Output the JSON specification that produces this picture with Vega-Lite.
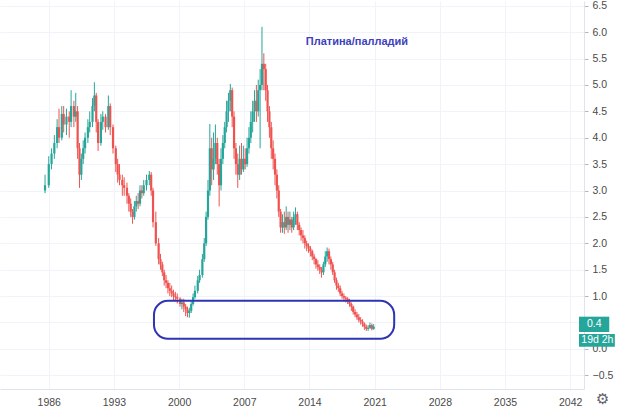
{
  "$schema": "https://vega.github.io/schema/vega-lite/v6.json",
  "width": 584,
  "height": 388,
  "padding": 0,
  "background": "white",
  "config": {
    "view": {"stroke": null},
    "font": "Liberation Sans",
    "axis": {
      "labelFont": "Liberation Sans",
      "labelFontSize": 10.5,
      "labelColor": "#4a4a4a",
      "gridColor": "#f0f3fa",
      "domainColor": "#e0e3eb",
      "labelOverlap": false
    },
    "axisX": {"ticks": false, "labelPadding": 8, "labelOverlap": false, "labelFlush": false},
    "axisY": {"tickSize": 4, "tickColor": "#b2b5be", "labelPadding": 4}
  },
  "datasets": {
    "candles": [
      {"t": 1985.6, "o": 3.0, "h": 3.3, "l": 2.95, "c": 3.1},
      {"t": 1986.0, "o": 3.1, "h": 3.65, "l": 3.05, "c": 3.5},
      {"t": 1986.3, "o": 3.5, "h": 3.8, "l": 3.4, "c": 3.7},
      {"t": 1986.6, "o": 3.7, "h": 4.05, "l": 3.6, "c": 3.9},
      {"t": 1986.9, "o": 3.9, "h": 4.35, "l": 3.8, "c": 4.2},
      {"t": 1987.1, "o": 4.2, "h": 4.55, "l": 3.9, "c": 4.0},
      {"t": 1987.4, "o": 4.0, "h": 4.6, "l": 3.95, "c": 4.45},
      {"t": 1987.6, "o": 4.45, "h": 4.6, "l": 4.1, "c": 4.25},
      {"t": 1987.9, "o": 4.25, "h": 4.55, "l": 4.05, "c": 4.4},
      {"t": 1988.2, "o": 4.4, "h": 4.5, "l": 4.0, "c": 4.3},
      {"t": 1988.4, "o": 4.3, "h": 4.9, "l": 4.2, "c": 4.6},
      {"t": 1988.7, "o": 4.6, "h": 4.7, "l": 4.2, "c": 4.4},
      {"t": 1988.9, "o": 4.4, "h": 4.85, "l": 4.3, "c": 4.5},
      {"t": 1989.1, "o": 4.5, "h": 4.6, "l": 3.6, "c": 3.8},
      {"t": 1989.3, "o": 3.8, "h": 3.9, "l": 3.05, "c": 3.3},
      {"t": 1989.5, "o": 3.3, "h": 3.7, "l": 3.2, "c": 3.6},
      {"t": 1989.7, "o": 3.6, "h": 3.95, "l": 3.5, "c": 3.8},
      {"t": 1989.9, "o": 3.8, "h": 4.1, "l": 3.7, "c": 4.0},
      {"t": 1990.2, "o": 4.0, "h": 4.35, "l": 3.9, "c": 4.2},
      {"t": 1990.4, "o": 4.2, "h": 4.5, "l": 4.1, "c": 4.3},
      {"t": 1990.7, "o": 4.3, "h": 4.75, "l": 4.2, "c": 4.6},
      {"t": 1990.9, "o": 4.6, "h": 5.05, "l": 4.5, "c": 4.8},
      {"t": 1991.1, "o": 4.8, "h": 4.85, "l": 4.1, "c": 4.3},
      {"t": 1991.3, "o": 4.3, "h": 4.35, "l": 3.75, "c": 3.9},
      {"t": 1991.6, "o": 3.9, "h": 4.45, "l": 3.85, "c": 4.3},
      {"t": 1991.8, "o": 4.3, "h": 4.5, "l": 4.15, "c": 4.4},
      {"t": 1992.1, "o": 4.4, "h": 4.45, "l": 4.1, "c": 4.2},
      {"t": 1992.4, "o": 4.2, "h": 4.8, "l": 4.15, "c": 4.6},
      {"t": 1992.6, "o": 4.6, "h": 4.65, "l": 4.05, "c": 4.2},
      {"t": 1992.9, "o": 4.2, "h": 4.25, "l": 3.7, "c": 3.8},
      {"t": 1993.2, "o": 3.8, "h": 3.85, "l": 3.35, "c": 3.5},
      {"t": 1993.4, "o": 3.5, "h": 3.6, "l": 3.15, "c": 3.3},
      {"t": 1993.6, "o": 3.3, "h": 3.5, "l": 3.1, "c": 3.2},
      {"t": 1993.9, "o": 3.2, "h": 3.3, "l": 2.9, "c": 3.1},
      {"t": 1994.1, "o": 3.1, "h": 3.25, "l": 2.9, "c": 3.05},
      {"t": 1994.4, "o": 3.05, "h": 3.15, "l": 2.75, "c": 2.9},
      {"t": 1994.6, "o": 2.9, "h": 2.95, "l": 2.6, "c": 2.75},
      {"t": 1994.8, "o": 2.75, "h": 2.85, "l": 2.5, "c": 2.6},
      {"t": 1995.0, "o": 2.6, "h": 2.65, "l": 2.37, "c": 2.5},
      {"t": 1995.2, "o": 2.5, "h": 2.8, "l": 2.45, "c": 2.7},
      {"t": 1995.4, "o": 2.7, "h": 2.9, "l": 2.6, "c": 2.8},
      {"t": 1995.6, "o": 2.8, "h": 2.95, "l": 2.65, "c": 2.75},
      {"t": 1995.8, "o": 2.75, "h": 3.1, "l": 2.7, "c": 3.0},
      {"t": 1996.0, "o": 3.0, "h": 3.1, "l": 2.85, "c": 2.95},
      {"t": 1996.2, "o": 2.95, "h": 3.2, "l": 2.9, "c": 3.1},
      {"t": 1996.5, "o": 3.1, "h": 3.3, "l": 3.0, "c": 3.2},
      {"t": 1996.8, "o": 3.2, "h": 3.37, "l": 3.1, "c": 3.3},
      {"t": 1997.0, "o": 3.3, "h": 3.35, "l": 2.9, "c": 3.0},
      {"t": 1997.2, "o": 3.0, "h": 3.05, "l": 2.3, "c": 2.4},
      {"t": 1997.5, "o": 2.4, "h": 2.6, "l": 1.95, "c": 2.0},
      {"t": 1997.8, "o": 2.0, "h": 2.1, "l": 1.6, "c": 1.7},
      {"t": 1998.0, "o": 1.7, "h": 1.8, "l": 1.5, "c": 1.6},
      {"t": 1998.2, "o": 1.6, "h": 1.65, "l": 1.38, "c": 1.45},
      {"t": 1998.4, "o": 1.45, "h": 1.5, "l": 1.2, "c": 1.3},
      {"t": 1998.6, "o": 1.3, "h": 1.4, "l": 1.15, "c": 1.25},
      {"t": 1998.8, "o": 1.25, "h": 1.3, "l": 1.05, "c": 1.15},
      {"t": 1999.0, "o": 1.15, "h": 1.25, "l": 1.0, "c": 1.1},
      {"t": 1999.2, "o": 1.1, "h": 1.2, "l": 0.98, "c": 1.05},
      {"t": 1999.4, "o": 1.05, "h": 1.12, "l": 0.92, "c": 1.0},
      {"t": 1999.6, "o": 1.0, "h": 1.08, "l": 0.9, "c": 0.98},
      {"t": 1999.8, "o": 0.98, "h": 1.05, "l": 0.86, "c": 0.95},
      {"t": 2000.1, "o": 0.95, "h": 0.98, "l": 0.8, "c": 0.85},
      {"t": 2000.3, "o": 0.85, "h": 0.95, "l": 0.75, "c": 0.88},
      {"t": 2000.5, "o": 0.88, "h": 0.95, "l": 0.7, "c": 0.8},
      {"t": 2000.7, "o": 0.8, "h": 0.85, "l": 0.62, "c": 0.75},
      {"t": 2000.9, "o": 0.75, "h": 0.8, "l": 0.6, "c": 0.68},
      {"t": 2001.1, "o": 0.68, "h": 0.78, "l": 0.59, "c": 0.72},
      {"t": 2001.3, "o": 0.72, "h": 0.9, "l": 0.68, "c": 0.85},
      {"t": 2001.5, "o": 0.85, "h": 1.05, "l": 0.82, "c": 0.98},
      {"t": 2001.7, "o": 0.98, "h": 1.2, "l": 0.95, "c": 1.1},
      {"t": 2002.0, "o": 1.1, "h": 1.38, "l": 1.05, "c": 1.3},
      {"t": 2002.2, "o": 1.3, "h": 1.5, "l": 1.25, "c": 1.4},
      {"t": 2002.5, "o": 1.4, "h": 1.8, "l": 1.35, "c": 1.7},
      {"t": 2002.7, "o": 1.7, "h": 2.1, "l": 1.65, "c": 2.0},
      {"t": 2002.9, "o": 2.0, "h": 2.6, "l": 1.95, "c": 2.5},
      {"t": 2003.1, "o": 2.5, "h": 3.2, "l": 2.45, "c": 3.0},
      {"t": 2003.3, "o": 3.0, "h": 4.26, "l": 2.9, "c": 3.8},
      {"t": 2003.5, "o": 3.8, "h": 4.0, "l": 3.1, "c": 3.4},
      {"t": 2003.7, "o": 3.4, "h": 4.1, "l": 3.2, "c": 3.6},
      {"t": 2003.9, "o": 3.6, "h": 4.25, "l": 3.5, "c": 3.9},
      {"t": 2004.1, "o": 3.9, "h": 4.0, "l": 3.3, "c": 3.5},
      {"t": 2004.3, "o": 3.5, "h": 3.6, "l": 2.7, "c": 3.1},
      {"t": 2004.5, "o": 3.1, "h": 3.8, "l": 3.0, "c": 3.6},
      {"t": 2004.7, "o": 3.6, "h": 4.05, "l": 3.5, "c": 3.9},
      {"t": 2004.9, "o": 3.9, "h": 4.3, "l": 3.8, "c": 4.2},
      {"t": 2005.1, "o": 4.2, "h": 4.7, "l": 4.1, "c": 4.5},
      {"t": 2005.3, "o": 4.5, "h": 4.85, "l": 4.3, "c": 4.7},
      {"t": 2005.5, "o": 4.7, "h": 5.02, "l": 4.5, "c": 4.9},
      {"t": 2005.7, "o": 4.9, "h": 4.95, "l": 4.2, "c": 4.4},
      {"t": 2005.9, "o": 4.4, "h": 4.5, "l": 3.6, "c": 3.8},
      {"t": 2006.1, "o": 3.8, "h": 3.9, "l": 3.3, "c": 3.5},
      {"t": 2006.3, "o": 3.5, "h": 3.7, "l": 3.05, "c": 3.3},
      {"t": 2006.5, "o": 3.3, "h": 3.85, "l": 3.2, "c": 3.6},
      {"t": 2006.7, "o": 3.6, "h": 3.9, "l": 3.3, "c": 3.4},
      {"t": 2006.9, "o": 3.4, "h": 3.85, "l": 3.35, "c": 3.6},
      {"t": 2007.1, "o": 3.6, "h": 3.8, "l": 3.4, "c": 3.5},
      {"t": 2007.3, "o": 3.5, "h": 4.0, "l": 3.45, "c": 3.8},
      {"t": 2007.5, "o": 3.8, "h": 4.2, "l": 3.7, "c": 4.0},
      {"t": 2007.7, "o": 4.0, "h": 4.5, "l": 3.9, "c": 4.3},
      {"t": 2007.9, "o": 4.3, "h": 4.7, "l": 4.1, "c": 4.5},
      {"t": 2008.1, "o": 4.5, "h": 4.9, "l": 4.3, "c": 4.7},
      {"t": 2008.3, "o": 4.7, "h": 5.0, "l": 4.3, "c": 4.5},
      {"t": 2008.5, "o": 4.5, "h": 5.1, "l": 4.4, "c": 4.9},
      {"t": 2008.7, "o": 4.9, "h": 5.3, "l": 3.8, "c": 5.0},
      {"t": 2008.9, "o": 5.0, "h": 6.1, "l": 4.9, "c": 5.4},
      {"t": 2009.1, "o": 5.4, "h": 5.6, "l": 4.9, "c": 5.3},
      {"t": 2009.3, "o": 5.3, "h": 5.4, "l": 4.7, "c": 4.9},
      {"t": 2009.5, "o": 4.9, "h": 5.0, "l": 4.3, "c": 4.5},
      {"t": 2009.7, "o": 4.5, "h": 4.6, "l": 4.0, "c": 4.2},
      {"t": 2009.9, "o": 4.2, "h": 4.3, "l": 3.6, "c": 3.8},
      {"t": 2010.1, "o": 3.8, "h": 3.95, "l": 3.4, "c": 3.6},
      {"t": 2010.3, "o": 3.6, "h": 3.7, "l": 3.1, "c": 3.3},
      {"t": 2010.5, "o": 3.3, "h": 3.4, "l": 2.85, "c": 3.0},
      {"t": 2010.7, "o": 3.0, "h": 3.1, "l": 2.5, "c": 2.6},
      {"t": 2010.9, "o": 2.6, "h": 2.65, "l": 2.2, "c": 2.3},
      {"t": 2011.1, "o": 2.3, "h": 2.55, "l": 2.2, "c": 2.4},
      {"t": 2011.3, "o": 2.4, "h": 2.6, "l": 2.18, "c": 2.3},
      {"t": 2011.5, "o": 2.3, "h": 2.7, "l": 2.25, "c": 2.5},
      {"t": 2011.7, "o": 2.5, "h": 2.6, "l": 2.2, "c": 2.35},
      {"t": 2011.9, "o": 2.35, "h": 2.6, "l": 2.25, "c": 2.45},
      {"t": 2012.1, "o": 2.45, "h": 2.5, "l": 2.2, "c": 2.3},
      {"t": 2012.3, "o": 2.3, "h": 2.6, "l": 2.25, "c": 2.5},
      {"t": 2012.5, "o": 2.5, "h": 2.68, "l": 2.35, "c": 2.55},
      {"t": 2012.7, "o": 2.55, "h": 2.6, "l": 2.25, "c": 2.35},
      {"t": 2012.9, "o": 2.35, "h": 2.4, "l": 2.15, "c": 2.25},
      {"t": 2013.1, "o": 2.25, "h": 2.3, "l": 2.05, "c": 2.15},
      {"t": 2013.3, "o": 2.15, "h": 2.25, "l": 2.0, "c": 2.1},
      {"t": 2013.5, "o": 2.1, "h": 2.15, "l": 1.9, "c": 2.0},
      {"t": 2013.7, "o": 2.0, "h": 2.05, "l": 1.85, "c": 1.95},
      {"t": 2013.9, "o": 1.95, "h": 2.0, "l": 1.82, "c": 1.9},
      {"t": 2014.1, "o": 1.9, "h": 1.95, "l": 1.75, "c": 1.85},
      {"t": 2014.3, "o": 1.85, "h": 1.88, "l": 1.68, "c": 1.75},
      {"t": 2014.5, "o": 1.75, "h": 1.8, "l": 1.6, "c": 1.7},
      {"t": 2014.7, "o": 1.7, "h": 1.72, "l": 1.52, "c": 1.6},
      {"t": 2014.9, "o": 1.6, "h": 1.68, "l": 1.48, "c": 1.55},
      {"t": 2015.1, "o": 1.55, "h": 1.6, "l": 1.42, "c": 1.5},
      {"t": 2015.3, "o": 1.5, "h": 1.55, "l": 1.35, "c": 1.45},
      {"t": 2015.5, "o": 1.45, "h": 1.65, "l": 1.4, "c": 1.6},
      {"t": 2015.7, "o": 1.6, "h": 1.85, "l": 1.55, "c": 1.75},
      {"t": 2015.9, "o": 1.75, "h": 1.92, "l": 1.65, "c": 1.85},
      {"t": 2016.1, "o": 1.85, "h": 1.9, "l": 1.6, "c": 1.7},
      {"t": 2016.3, "o": 1.7, "h": 1.75, "l": 1.5, "c": 1.6},
      {"t": 2016.5, "o": 1.6, "h": 1.65, "l": 1.4, "c": 1.45},
      {"t": 2016.7, "o": 1.45, "h": 1.5, "l": 1.25, "c": 1.3},
      {"t": 2016.9, "o": 1.3, "h": 1.35, "l": 1.12, "c": 1.2},
      {"t": 2017.1, "o": 1.2, "h": 1.25, "l": 1.08, "c": 1.15},
      {"t": 2017.3, "o": 1.15, "h": 1.2, "l": 1.0, "c": 1.05},
      {"t": 2017.5, "o": 1.05, "h": 1.1, "l": 0.95, "c": 1.0},
      {"t": 2017.7, "o": 1.0, "h": 1.05, "l": 0.9, "c": 0.97},
      {"t": 2017.9, "o": 0.97, "h": 1.0, "l": 0.88, "c": 0.95},
      {"t": 2018.1, "o": 0.95, "h": 0.98, "l": 0.85, "c": 0.9},
      {"t": 2018.3, "o": 0.9, "h": 0.95, "l": 0.8, "c": 0.85},
      {"t": 2018.5, "o": 0.85, "h": 0.88, "l": 0.72, "c": 0.8},
      {"t": 2018.7, "o": 0.8, "h": 0.82, "l": 0.65, "c": 0.7},
      {"t": 2018.9, "o": 0.7, "h": 0.75, "l": 0.6, "c": 0.65},
      {"t": 2019.1, "o": 0.65, "h": 0.7, "l": 0.55, "c": 0.6},
      {"t": 2019.3, "o": 0.6, "h": 0.66, "l": 0.5, "c": 0.55},
      {"t": 2019.5, "o": 0.55, "h": 0.6, "l": 0.46, "c": 0.52},
      {"t": 2019.7, "o": 0.52, "h": 0.56, "l": 0.42, "c": 0.48},
      {"t": 2019.9, "o": 0.48, "h": 0.5, "l": 0.36, "c": 0.42},
      {"t": 2020.1, "o": 0.42, "h": 0.46, "l": 0.34, "c": 0.38},
      {"t": 2020.3, "o": 0.38, "h": 0.45, "l": 0.34, "c": 0.4},
      {"t": 2020.5, "o": 0.4, "h": 0.5, "l": 0.38, "c": 0.45},
      {"t": 2020.7, "o": 0.45, "h": 0.48, "l": 0.35, "c": 0.38},
      {"t": 2020.9, "o": 0.38, "h": 0.47, "l": 0.36, "c": 0.42}
    ]
  },
  "layer": [
    {
      "data": {"name": "candles"},
      "mark": {"type": "rule", "strokeWidth": 1},
      "encoding": {
        "x": {
          "field": "t",
          "type": "quantitative",
          "scale": {"domain": [1981.3, 2042.95], "nice": false, "zero": false},
          "axis": {"title": null, "values": [1986, 1993, 2000, 2007, 2014, 2021, 2028, 2035, 2042], "format": "d", "labelOverlap": false, "labelFlush": false}
        },
        "y": {
          "field": "l",
          "type": "quantitative",
          "scale": {"domain": [-0.76, 6.59], "nice": false, "zero": false},
          "axis": {"title": null, "orient": "right", "values": [-0.5, 0, 0.5, 1, 1.5, 2, 2.5, 3, 3.5, 4, 4.5, 5, 5.5, 6, 6.5], "format": ".1f", "labelExpr": "datum.value == 0.5 ? '' : datum.label", "labelOverlap": false}
        },
        "y2": {"field": "h"},
        "color": {
          "condition": {"test": "datum.c >= datum.o", "value": "#26a69a"},
          "value": "#ef5350"
        }
      }
    },
    {
      "data": {"name": "candles"},
      "mark": {"type": "bar", "width": 2.2},
      "encoding": {
        "x": {
          "field": "t",
          "type": "quantitative",
          "axis": {"title": null, "values": [1986, 1993, 2000, 2007, 2014, 2021, 2028, 2035, 2042], "format": "d", "labelOverlap": false, "labelFlush": false}
        },
        "y": {
          "field": "o",
          "type": "quantitative",
          "axis": {"title": null, "orient": "right", "values": [-0.5, 0, 0.5, 1, 1.5, 2, 2.5, 3, 3.5, 4, 4.5, 5, 5.5, 6, 6.5], "format": ".1f", "labelExpr": "datum.value == 0.5 ? '' : datum.label", "labelOverlap": false}
        },
        "y2": {"field": "c"},
        "color": {
          "condition": {"test": "datum.c >= datum.o", "value": "#26a69a"},
          "value": "#ef5350"
        }
      }
    },
    {
      "data": {"values": [{"x": 1997.3, "x2": 2023.1, "y": 0.91, "y2": 0.19}]},
      "mark": {"type": "rect", "filled": false, "stroke": "#2f34b5", "strokeWidth": 2, "cornerRadius": 14},
      "encoding": {
        "x": {
          "field": "x",
          "type": "quantitative",
          "axis": {"title": null, "values": [1986, 1993, 2000, 2007, 2014, 2021, 2028, 2035, 2042], "format": "d", "labelOverlap": false, "labelFlush": false}
        },
        "x2": {"field": "x2"},
        "y": {
          "field": "y",
          "type": "quantitative",
          "axis": {"title": null, "orient": "right", "values": [-0.5, 0, 0.5, 1, 1.5, 2, 2.5, 3, 3.5, 4, 4.5, 5, 5.5, 6, 6.5], "format": ".1f", "labelExpr": "datum.value == 0.5 ? '' : datum.label", "labelOverlap": false}
        },
        "y2": {"field": "y2"}
      }
    },
    {
      "data": {"values": [
        {"label": "Платина/палладий", "x": 2019.1, "y": 5.81}
      ]},
      "mark": {"type": "text", "fontWeight": "bold", "fontSize": 11, "color": "#3c3fc0", "align": "center", "baseline": "middle"},
      "encoding": {
        "x": {
          "field": "x",
          "type": "quantitative",
          "axis": {"title": null, "values": [1986, 1993, 2000, 2007, 2014, 2021, 2028, 2035, 2042], "format": "d", "labelOverlap": false, "labelFlush": false}
        },
        "y": {
          "field": "y",
          "type": "quantitative",
          "axis": {"title": null, "orient": "right", "values": [-0.5, 0, 0.5, 1, 1.5, 2, 2.5, 3, 3.5, 4, 4.5, 5, 5.5, 6, 6.5], "format": ".1f", "labelExpr": "datum.value == 0.5 ? '' : datum.label", "labelOverlap": false}
        },
        "text": {"field": "label"}
      }
    },
    {
      "data": {"values": [
        {"x": 2042.95, "x2": 2046.2, "y": 0.61, "y2": 0.32},
        {"x": 2042.95, "x2": 2046.8, "y": 0.28, "y2": 0.04}
      ]},
      "mark": {"type": "rect", "color": "#26a69a"},
      "encoding": {
        "x": {
          "field": "x",
          "type": "quantitative",
          "axis": {"title": null, "values": [1986, 1993, 2000, 2007, 2014, 2021, 2028, 2035, 2042], "format": "d", "labelOverlap": false, "labelFlush": false}
        },
        "x2": {"field": "x2"},
        "y": {
          "field": "y",
          "type": "quantitative",
          "axis": {"title": null, "orient": "right", "values": [-0.5, 0, 0.5, 1, 1.5, 2, 2.5, 3, 3.5, 4, 4.5, 5, 5.5, 6, 6.5], "format": ".1f", "labelExpr": "datum.value == 0.5 ? '' : datum.label", "labelOverlap": false}
        },
        "y2": {"field": "y2"}
      }
    },
    {
      "data": {"values": [
        {"label": "0.4", "x": 2043.8, "y": 0.465},
        {"label": "19d 2h", "x": 2043.2, "y": 0.16}
      ]},
      "mark": {"type": "text", "fontSize": 10.5, "color": "white", "align": "left", "baseline": "middle"},
      "encoding": {
        "x": {
          "field": "x",
          "type": "quantitative",
          "axis": {"title": null, "values": [1986, 1993, 2000, 2007, 2014, 2021, 2028, 2035, 2042], "format": "d", "labelOverlap": false, "labelFlush": false}
        },
        "y": {
          "field": "y",
          "type": "quantitative",
          "axis": {"title": null, "orient": "right", "values": [-0.5, 0, 0.5, 1, 1.5, 2, 2.5, 3, 3.5, 4, 4.5, 5, 5.5, 6, 6.5], "format": ".1f", "labelExpr": "datum.value == 0.5 ? '' : datum.label", "labelOverlap": false}
        },
        "text": {"field": "label"}
      }
    },
    {
      "data": {"values": [{"label": "⚙", "x": 2045.5, "y": -0.95}]},
      "mark": {"type": "text", "fontSize": 15, "font": "DejaVu Sans", "color": "#5d606b", "align": "center", "baseline": "middle"},
      "encoding": {
        "x": {
          "field": "x",
          "type": "quantitative",
          "axis": {"title": null, "values": [1986, 1993, 2000, 2007, 2014, 2021, 2028, 2035, 2042], "format": "d", "labelOverlap": false, "labelFlush": false}
        },
        "y": {
          "field": "y",
          "type": "quantitative",
          "axis": {"title": null, "orient": "right", "values": [-0.5, 0, 0.5, 1, 1.5, 2, 2.5, 3, 3.5, 4, 4.5, 5, 5.5, 6, 6.5], "format": ".1f", "labelExpr": "datum.value == 0.5 ? '' : datum.label", "labelOverlap": false}
        },
        "text": {"field": "label"}
      }
    }
  ]
}
